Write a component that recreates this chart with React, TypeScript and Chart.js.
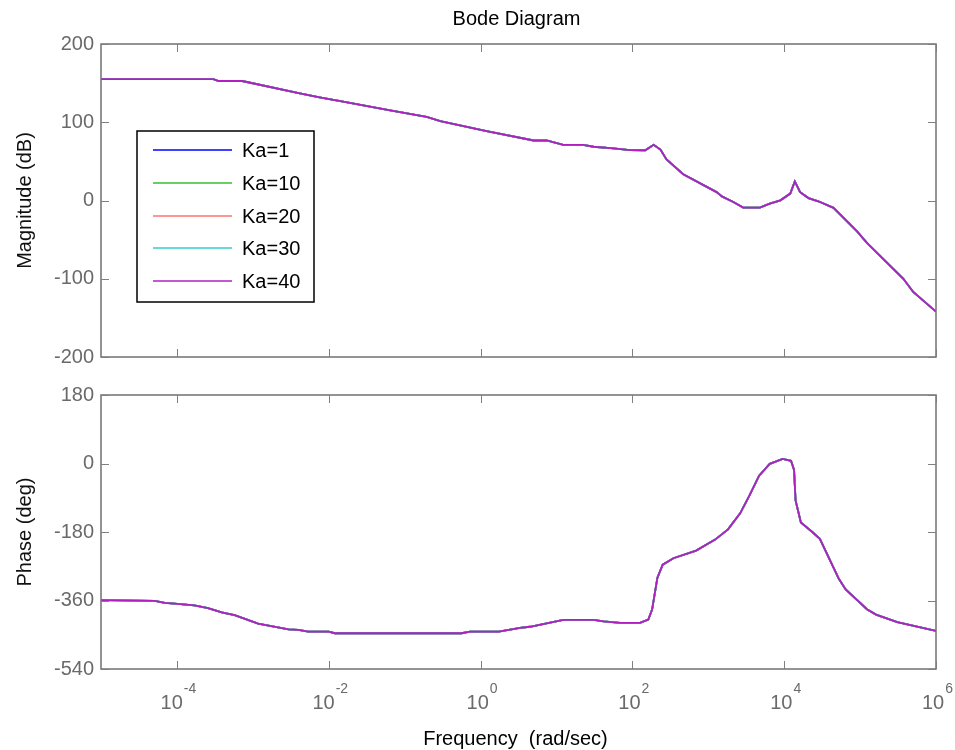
import React, { useEffect, useRef } from 'react';
import { Chart, registerables } from 'chart.js';

Chart.register(...registerables);

// ---- data ----
const kaLabels = ['Ka=1', 'Ka=10', 'Ka=20', 'Ka=30', 'Ka=40'];
const kaColors = ['#0000ff', '#33c033', '#ff7070', '#33cccc', '#b020c0'];

// log10 of frequency (rad/sec) for magnitude points
const magFreqExp = [
  -5, -3.52, -3.45, -3.14, -2.38, -2.12, -1.81, -1.19, -0.71, -0.53, 0.08, 0.7, 0.87,
  1.09, 1.35, 1.49, 1.75, 1.97, 2.17, 2.28, 2.37, 2.45, 2.67, 3.11, 3.18, 3.33, 3.46,
  3.68, 3.81, 3.95, 4.08, 4.14, 4.21, 4.32, 4.45, 4.65, 4.96, 5.09, 5.57, 5.7, 6,
];
const magDb = [
  155, 155, 152.7, 152.7, 137, 131.9, 126.4, 115.1, 106.8, 101.3, 88.8, 76.7, 76.7,
  71.2, 71.2, 68.7, 66.7, 64.4, 64.2, 71.2, 65, 52.4, 33.6, 10.7, 5.2, -1.9, -9,
  -9, -4, 0.2, 8.8, 24.4, 10.7, 3.1, -1, -9.4, -39.5, -54.2, -100.1, -116.9, -142,
];

// log10 of frequency (rad/sec) for phase points
const phaseFreqExp = [
  -5, -4.29, -4.16, -4.03, -3.77, -3.59, -3.41, -3.24, -2.93, -2.53, -2.4, -2.27, -2.0,
  -1.92, -0.25, -0.14, 0.24, 0.52, 0.65, 1.09, 1.49, 1.62, 1.84, 2.1, 2.21, 2.26, 2.33,
  2.4, 2.54, 2.84, 3.09, 3.26, 3.42, 3.54, 3.67, 3.81, 3.98, 4.09, 4.13, 4.15, 4.22,
  4.37, 4.47, 4.72, 4.81, 5.09, 5.21, 5.49, 6,
];
const phaseDeg = [
  -359, -361, -366, -368, -373, -380, -391, -398.6, -421, -436, -437, -442, -442,
  -446, -446, -442, -442, -432, -429, -411, -411, -415, -419, -419, -410, -384, -300,
  -266, -249, -229, -200, -173, -131, -85, -32, -1, 12, 7, -17, -97, -155,
  -180, -198, -303, -331, -383, -397, -417, -440,
];

const magTicks = [-200, -100, 0, 100, 200];
const phaseTicks = [-540, -360, -180, 0, 180];
const freqTickExps = [-4, -2, 0, 2, 4, 6];
const freqMinExp = -5;
const freqMaxExp = 6;

const FONT = "'Liberation Sans', Arial, Helvetica, sans-serif";
const AXIS_COLOR = '#707070';
const TICK_TEXT = '#6a6a6a';

const W = 955;
const TOP_H = 376;
const BOT_H = 374;

function makeDatasets(exps: number[], vals: number[]) {
  return kaLabels.map((label, i) => ({
    label,
    data: exps.map((e, j) => ({ x: Math.pow(10, e), y: vals[j] })),
    borderColor: kaColors[i],
    backgroundColor: kaColors[i],
    borderWidth: 1.8,
    pointRadius: 0,
    fill: false,
    tension: 0,
    // later series are drawn on top (as in MATLAB)
    order: kaLabels.length - 1 - i,
  }));
}

const framePlugin = {
  id: 'matlabFrame',
  afterDatasetsDraw(chart: any) {
    const { ctx, chartArea } = chart;
    const { left, right, top, bottom } = chartArea;
    const xs = chart.scales.x;
    const ys = chart.scales.y;
    ctx.save();
    ctx.strokeStyle = AXIS_COLOR;
    ctx.lineWidth = 1.5;
    ctx.strokeRect(left, top, right - left, bottom - top);
    ctx.lineWidth = 1;
    ctx.strokeStyle = '#808080';
    const tl = 8;
    ctx.beginPath();
    ys.ticks.forEach((t: any) => {
      const py = Math.round(ys.getPixelForValue(t.value)) + 0.5;
      ctx.moveTo(left, py);
      ctx.lineTo(left + tl, py);
      ctx.moveTo(right, py);
      ctx.lineTo(right - tl, py);
    });
    freqTickExps.forEach((e) => {
      const px = Math.round(xs.getPixelForValue(Math.pow(10, e))) + 0.5;
      ctx.moveTo(px, top);
      ctx.lineTo(px, top + tl);
      ctx.moveTo(px, bottom);
      ctx.lineTo(px, bottom - tl);
    });
    ctx.stroke();
    ctx.restore();
  },
};

const topDecorPlugin = {
  id: 'topDecor',
  afterDraw(chart: any) {
    const { ctx, chartArea } = chart;
    ctx.save();
    // title
    ctx.fillStyle = '#000';
    ctx.font = `20px ${FONT}`;
    ctx.textAlign = 'center';
    ctx.textBaseline = 'alphabetic';
    ctx.fillText('Bode Diagram', (chartArea.left + chartArea.right) / 2 - 2, 25);
    // legend
    const bx = 137, by = 131, bw = 177, bh = 171;
    ctx.fillStyle = '#fff';
    ctx.fillRect(bx, by, bw, bh);
    ctx.strokeStyle = '#000';
    ctx.lineWidth = 1.5;
    ctx.strokeRect(bx, by, bw, bh);
    chart.data.datasets.forEach((ds: any, i: number) => {
      const y = Math.round(150 + i * 32.75);
      ctx.strokeStyle = ds.borderColor;
      ctx.lineWidth = 1.6;
      ctx.beginPath();
      ctx.moveTo(153, y);
      ctx.lineTo(232, y);
      ctx.stroke();
      ctx.fillStyle = '#000';
      ctx.font = `20px ${FONT}`;
      ctx.textAlign = 'left';
      ctx.textBaseline = 'middle';
      ctx.fillText(ds.label, 242, y + 1);
    });
    ctx.restore();
  },
};

const bottomDecorPlugin = {
  id: 'bottomDecor',
  afterDraw(chart: any) {
    const { ctx, chartArea } = chart;
    const xs = chart.scales.x;
    ctx.save();
    ctx.textBaseline = 'alphabetic';
    ctx.textAlign = 'left';
    ctx.fillStyle = TICK_TEXT;
    const baseY = chartArea.bottom + 40;
    freqTickExps.forEach((e) => {
      const px = xs.getPixelForValue(Math.pow(10, e));
      const base = '10';
      const sup = String(e);
      ctx.font = `20px ${FONT}`;
      const w1 = ctx.measureText(base).width;
      ctx.font = `14px ${FONT}`;
      const w2 = ctx.measureText(sup).width;
      const x0 = px - (w1 + w2) / 2 + 1;
      ctx.font = `20px ${FONT}`;
      ctx.fillText(base, x0, baseY);
      ctx.font = `14px ${FONT}`;
      ctx.fillText(sup, x0 + w1 + 1, baseY - 16);
    });
    ctx.fillStyle = '#000';
    ctx.font = `20px ${FONT}`;
    ctx.textAlign = 'center';
    ctx.fillText('Frequency  (rad/sec)', (chartArea.left + chartArea.right) / 2 - 3, chartArea.bottom + 76);
    ctx.restore();
  },
};

function yAxis(min: number, max: number, tickVals: number[], title: string) {
  return {
    type: 'linear',
    min,
    max,
    afterBuildTicks: (scale: any) => {
      scale.ticks = tickVals.map((v) => ({ value: v }));
    },
    afterFit: (scale: any) => {
      scale.width = 101;
    },
    grid: { display: false, drawTicks: false },
    border: { display: false },
    ticks: {
      color: TICK_TEXT,
      font: { family: FONT, size: 20 },
      padding: 7,
    },
    title: {
      display: true,
      text: title,
      color: '#111',
      font: { family: FONT, size: 20 },
      padding: { top: 13, bottom: 0 },
    },
  };
}

function xAxis() {
  return {
    type: 'logarithmic',
    min: Math.pow(10, freqMinExp),
    max: Math.pow(10, freqMaxExp),
    display: false,
  };
}

export default function App() {
  const topRef = useRef<HTMLCanvasElement | null>(null);
  const botRef = useRef<HTMLCanvasElement | null>(null);

  useEffect(() => {
    const common = {
      animation: false,
      responsive: false,
      maintainAspectRatio: false,
      devicePixelRatio: 1,
      events: [],
    };
    const top = new Chart(topRef.current as HTMLCanvasElement, {
      type: 'line',
      data: { datasets: makeDatasets(magFreqExp, magDb) },
      options: {
        ...common,
        layout: { padding: { left: 0, right: 19, top: 44, bottom: TOP_H - 363 } },
        plugins: { legend: { display: false }, tooltip: { enabled: false }, title: { display: false } },
        scales: { x: xAxis(), y: yAxis(-200, 200, magTicks, 'Magnitude (dB)') },
      } as any,
      plugins: [framePlugin, topDecorPlugin],
    });
    const bot = new Chart(botRef.current as HTMLCanvasElement, {
      type: 'line',
      data: { datasets: makeDatasets(phaseFreqExp, phaseDeg) },
      options: {
        ...common,
        layout: { padding: { left: 0, right: 19, top: 388 - TOP_H, bottom: BOT_H - (669 - TOP_H) } },
        plugins: { legend: { display: false }, tooltip: { enabled: false }, title: { display: false } },
        scales: { x: xAxis(), y: yAxis(-540, 180, phaseTicks, 'Phase (deg)') },
      } as any,
      plugins: [framePlugin, bottomDecorPlugin],
    });
    return () => {
      top.destroy();
      bot.destroy();
    };
  }, []);

  return (
    <div style={{ position: 'absolute', left: 0, top: 0, width: W, height: TOP_H + BOT_H, background: '#fff' }}>
      <canvas
        ref={topRef}
        width={W}
        height={TOP_H}
        style={{ position: 'absolute', left: 0, top: 0, width: W, height: TOP_H }}
      />
      <canvas
        ref={botRef}
        width={W}
        height={BOT_H}
        style={{ position: 'absolute', left: 0, top: TOP_H, width: W, height: BOT_H }}
      />
    </div>
  );
}
